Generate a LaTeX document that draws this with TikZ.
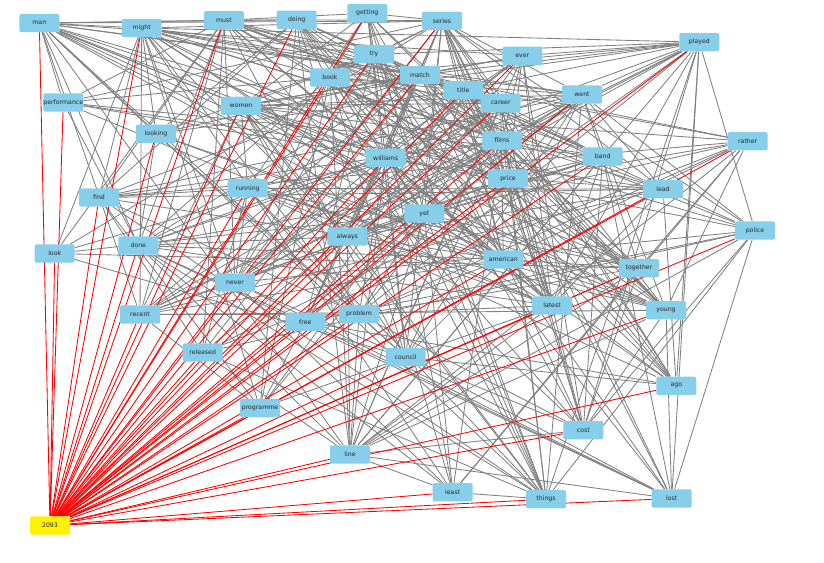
\documentclass[tikz,border=0pt]{standalone}
\usepackage{fontspec}
\setmainfont{DejaVu Sans}
\usetikzlibrary{backgrounds}
\definecolor{nodeblue}{HTML}{87CEEB}
\definecolor{edgegray}{HTML}{808080}
\definecolor{redline}{HTML}{FF0000}
\begin{document}
\begin{tikzpicture}[x=1pt,y=-1pt,
  box/.style={fill=nodeblue, rounded corners=2pt, minimum width=40pt, minimum height=18.3pt, inner sep=0pt, font=\fontsize{6.2}{7}\selectfont, text=black!85},
  hibox/.style={box, fill=yellow},
  grayedge/.style={draw=edgegray, line width=0.85pt},
  rededge/.style={draw=redline, line width=0.85pt}]
\useasboundingbox (0,0) rectangle (824,562);
\def\nodelist{man/39.3/23/1.0, might/141.7/28/1.0, must/224/20.2/0.8, doing/296.7/19.8/0.85, getting/367.3/13.2/0.8, series/442/20.8/0.95, try/374/54.3/0.6, book/330/77.5/0.85, match/420/75/0.85, ever/522.3/55.8/0.7, played/699.3/42.2/0.85, performance/63.3/102.5/0.4, women/241/105.8/0.85, title/463.3/90.2/0.75, career/500.7/103.2/0.75, went/582/94.5/0.75, looking/156/133.8/0.6, williams/385.7/157.8/0.85, films/502/140.5/0.8, rather/747.7/141.2/0.6, band/602.7/156.5/0.85, price/508/178.5/0.85, running/247.7/188.3/0.7, lead/663/189.2/0.6, find/99/197.5/0.45, yet/424.3/213.5/0.85, always/347.3/236.5/0.75, police/755/230.5/0.4, look/54.7/253.5/0.45, done/138.3/245.5/0.7, american/503.3/259.5/0.85, together/639/268.2/0.6, never/235/282.5/0.75, latest/552/305.5/0.9, young/666/310.2/0.6, recent/140/314.5/0.6, free/305.3/321.8/0.65, problem/359/314.2/0.75, released/202.7/352.5/0.6, council/405.7/357.2/0.65, ago/676.3/385.8/0.65, programme/260/408.2/0.5, cost/583.3/430.2/0.55, line/350/454.5/0.55, least/452.7/492.3/0.5, things/546/499.2/0.65, lost/671.7/498.5/0.55}
\foreach \n/\x/\y/\w in \nodelist { \node[box] (\n) at (\x,\y) {\n}; }
\node[hibox] (n2093) at (50,525.5) {2093};
\begin{pgfonlayer}{background}
\pgfmathsetseed{12}
\foreach \a/\xa/\ya/\wa [count=\i] in \nodelist {
  \foreach \b/\xb/\yb/\wb [count=\j] in \nodelist {
    \ifnum\j>\i
      \pgfmathtruncatemacro\ok{rnd<\wa*\wb*0.78}
      \ifnum\ok=1 \draw[grayedge] (\a) -- (\b); \fi
    \fi
  }
}
\foreach \n/\x/\y/\w in \nodelist { \draw[rededge] (n2093) -- (\n); }
\end{pgfonlayer}
\end{tikzpicture}
\end{document}
